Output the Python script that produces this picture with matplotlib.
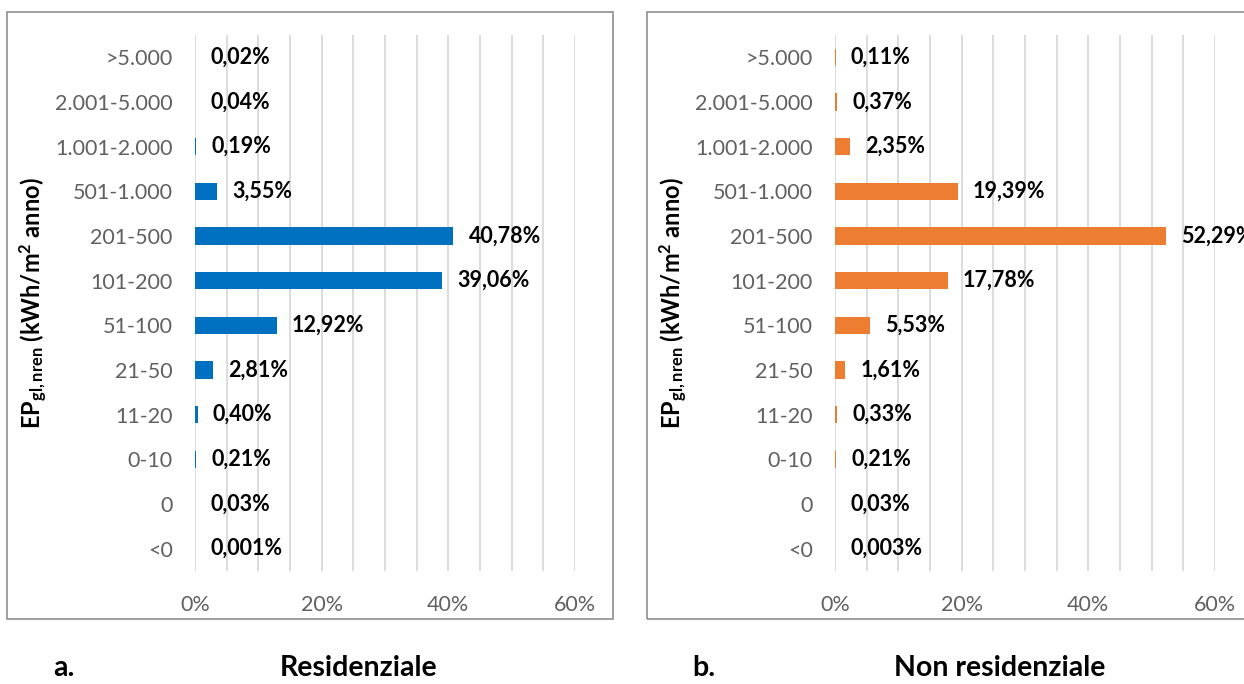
import matplotlib
matplotlib.use("Agg")
import matplotlib.pyplot as plt
from matplotlib.patches import Rectangle
from matplotlib.ticker import MultipleLocator, FixedLocator

plt.rcParams['font.family'] = ['Lato', 'DejaVu Sans']
plt.rcParams['mathtext.fontset'] = 'custom'
plt.rcParams['mathtext.rm'] = 'Lato'
plt.rcParams['mathtext.bf'] = 'Lato:bold'
plt.rcParams['mathtext.it'] = 'Lato:italic'

categories = ["<0", "0", "0-10", "11-20", "21-50", "51-100", "101-200",
              "201-500", "501-1.000", "1.001-2.000", "2.001-5.000", ">5.000"]
residenziale = [0.001, 0.03, 0.21, 0.40, 2.81, 12.92, 39.06, 40.78, 3.55, 0.19, 0.04, 0.02]
non_residenziale = [0.003, 0.03, 0.21, 0.33, 1.61, 5.53, 17.78, 52.29, 19.39, 2.35, 0.37, 0.11]
res_labels = ["0,001%", "0,03%", "0,21%", "0,40%", "2,81%", "12,92%", "39,06%",
              "40,78%", "3,55%", "0,19%", "0,04%", "0,02%"]
nonres_labels = ["0,003%", "0,03%", "0,21%", "0,33%", "1,61%", "5,53%", "17,78%",
                 "52,29%", "19,39%", "2,35%", "0,37%", "0,11%"]
x_ticks = [0, 20, 40, 60]
x_ticklabels = ["0%", "20%", "40%", "60%"]

W, H = 1244, 684
fig = plt.figure(figsize=(W / 100, H / 100), dpi=100)
fig.patch.set_facecolor("white")

def fx(px):
    return px / W

def fy(py):
    return 1 - py / H

# panel frames
for (x0, x1) in [(7, 613), (647, 1250)]:
    fig.patches.append(Rectangle((fx(x0), fy(619)), fx(x1 - x0), (619 - 12) / H,
                                 transform=fig.transFigure, fill=False,
                                 edgecolor="#8f8f8f", linewidth=1.2, zorder=0))

ax_bottom = fy(571)
ax_h = (571 - 35) / H
axes_specs = [
    (195, residenziale, res_labels, "#0070C0", 33),
    (835, non_residenziale, nonres_labels, "#ED7D31", 673),
]
ylabel = r"EP$_{\mathbf{gl,nren}}$ (kWh/m$^{\mathbf{2}}$ anno)"

for left_px, vals, labs, color, ylab_px in axes_specs:
    ax = fig.add_axes([fx(left_px), ax_bottom, fx(380), ax_h])
    y = list(range(len(categories)))
    ax.barh(y, vals, height=0.39, color=color, zorder=3)
    ax.set_xlim(0, 60)
    ax.set_ylim(-0.5, len(categories) - 0.5)
    ax.xaxis.set_major_locator(FixedLocator(x_ticks))
    ax.set_xticklabels(x_ticklabels)
    ax.xaxis.set_minor_locator(MultipleLocator(5))
    ax.grid(axis="x", which="both", color="#d9d9d9", linewidth=1.3, zorder=0)
    ax.set_yticks(y)
    ax.set_yticklabels(categories)
    ax.tick_params(axis="both", which="both", length=0, colors="#606060",
                   labelsize=15.5)
    ax.tick_params(axis="y", pad=16)
    ax.tick_params(axis="x", pad=17)
    for s in ax.spines.values():
        s.set_visible(False)
    for yi, v, lab in zip(y, vals, labs):
        ax.annotate(lab, xy=(v, yi), xytext=(11, 0), textcoords="offset points",
                    ha="left", va="center", fontsize=15.5, fontweight="bold",
                    color="black", annotation_clip=False, zorder=4)
    ax.set_ylabel(ylabel, fontsize=17, fontweight="bold", color="black")
    ax.yaxis.label.set_va("center")
    ax.yaxis.set_label_coords((ylab_px - left_px) / 380, 0.5)

# bottom captions
for xpos, txt in [(64, "a."), (704, "b.")]:
    fig.text(fx(xpos), fy(668), txt, ha="center", va="center",
             fontsize=20.5, fontweight="bold")
for xpos, txt in [(359, "Residenziale"), (1000, "Non residenziale")]:
    fig.text(fx(xpos), fy(668), txt, ha="center", va="center",
             fontsize=20.5, fontweight="bold")

fig.savefig("out.png", dpi=100, facecolor="white")
